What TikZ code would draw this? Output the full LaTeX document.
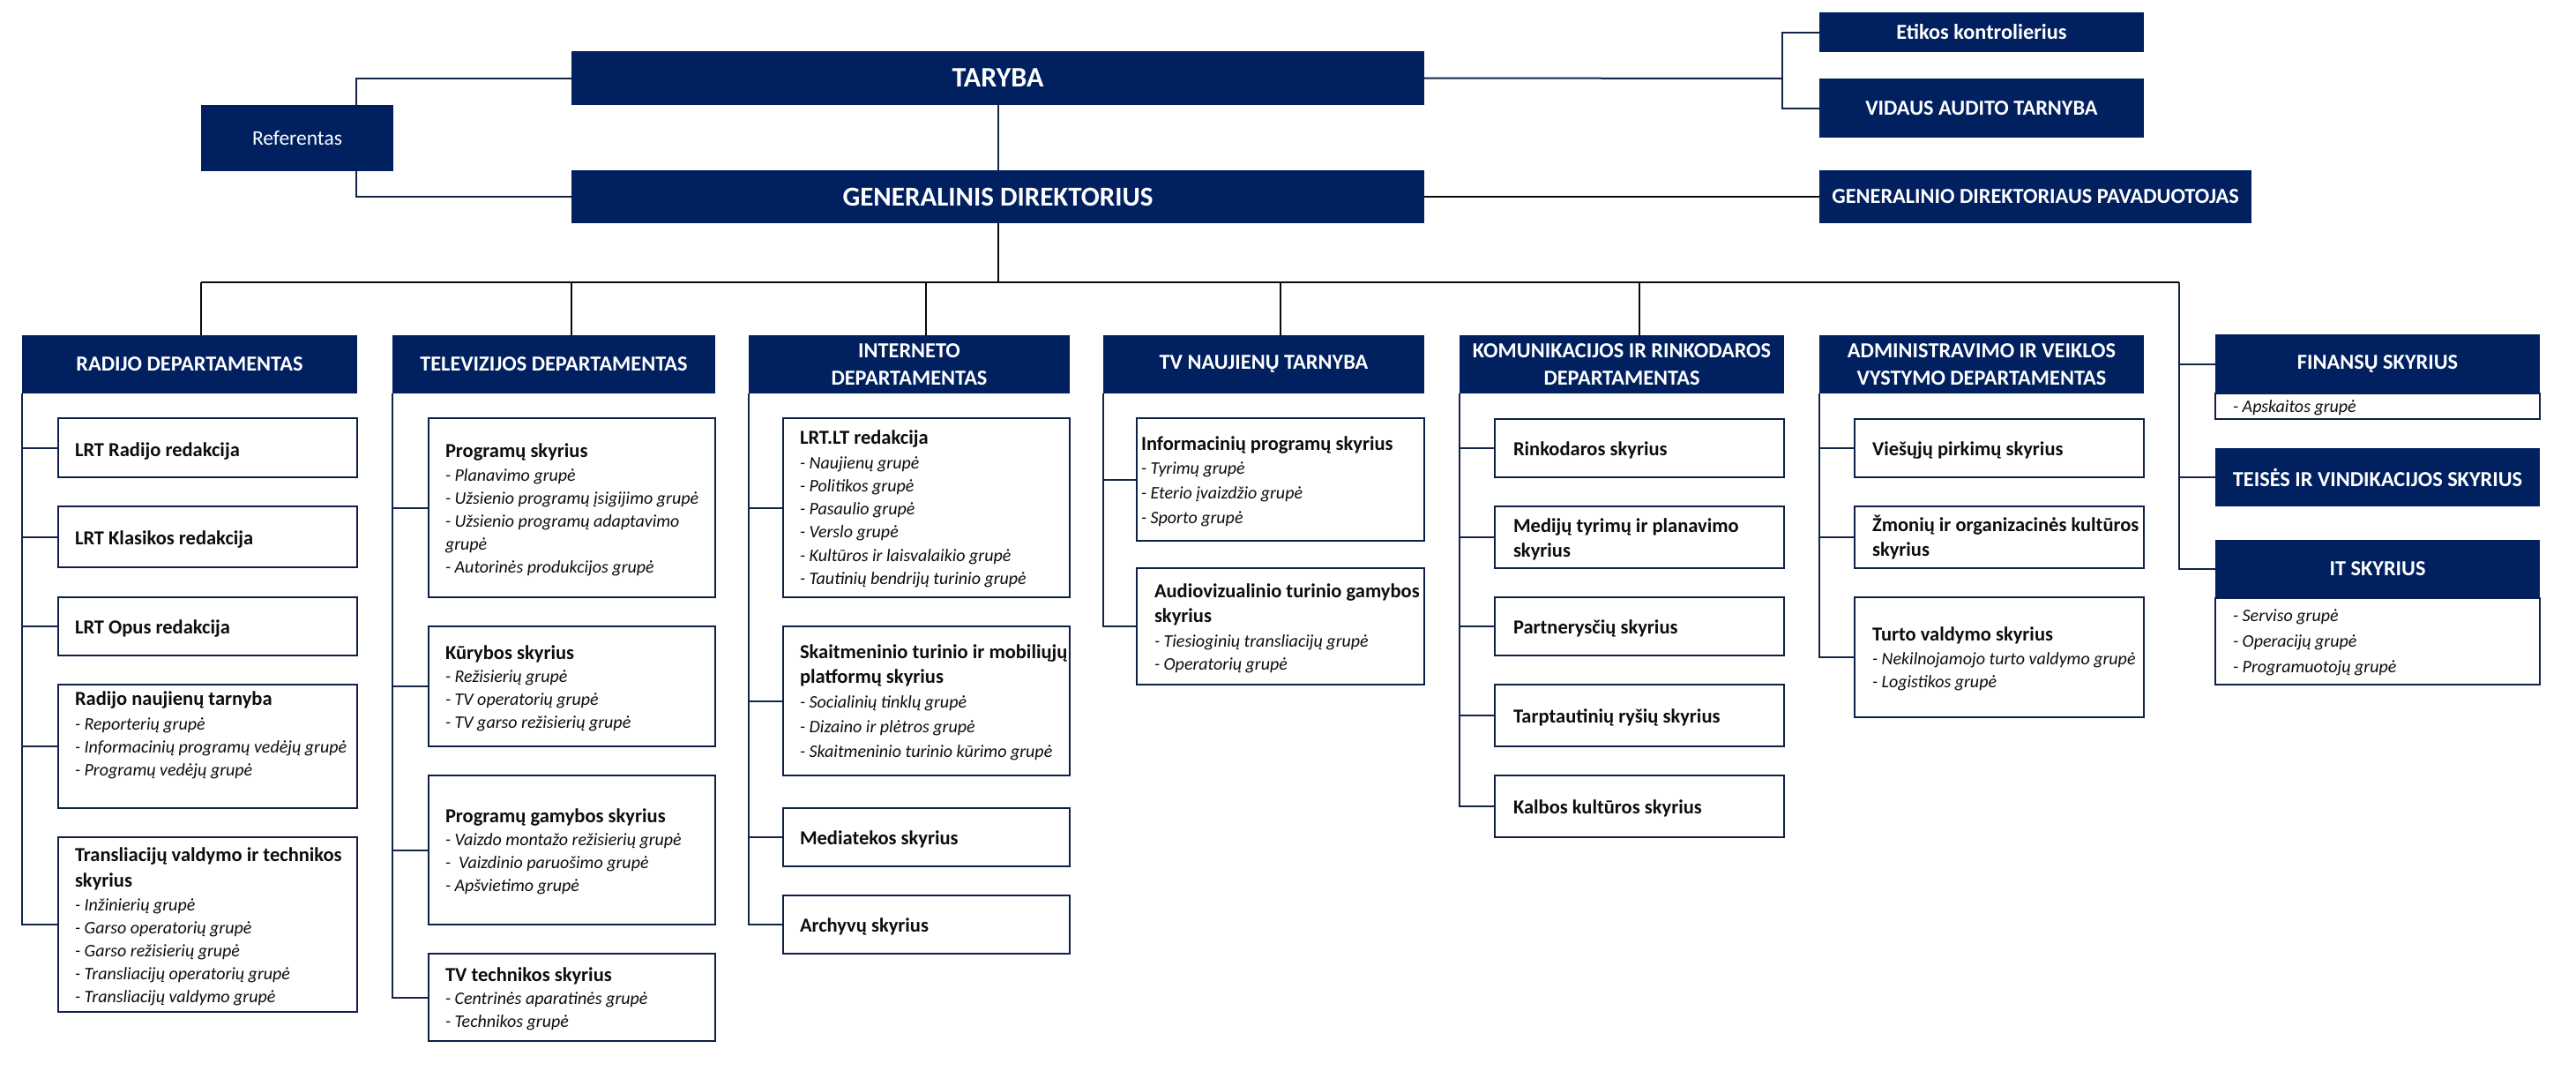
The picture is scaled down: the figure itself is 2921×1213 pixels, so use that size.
\documentclass[tikz,border=0pt]{standalone}
\usepackage{fontspec}
\setmainfont{Carlito}
\usetikzlibrary{backgrounds}
\definecolor{navy}{HTML}{002060}
\definecolor{edgec}{HTML}{0F1F47}
\definecolor{wirec}{HTML}{14234A}
\definecolor{busc}{HTML}{0A0A0A}
\definecolor{textc}{HTML}{0D0D0D}
\newcommand\hd[1]{{\fontsize{22.5}{26}\selectfont\upshape\bfseries #1}}
\newcommand\rows[1]{\begin{tabular}[t]{@{}l@{}}#1\end{tabular}}
\newcommand\rbox[7]{\node[#1, minimum width={#5-#3}, minimum height={#6-#4}] (#2) at ({(#3+#5)/2},{(#4+#6)/2}) {#7};}
\begin{document}
\begin{tikzpicture}[x=1pt,y=-1pt,
  hdr/.style={fill=navy, draw=none, text=white, font=\fontsize{24.3}{31}\selectfont\bfseries, align=center, inner sep=0pt, outer sep=0pt},
  sbox/.style={draw=edgec, line width=2pt, fill=white, inner sep=0pt, outer sep=0pt},
  wire/.style={draw=wirec, line width=2pt},
  busline/.style={draw=busc, line width=2pt},
  body/.style={anchor=base west, inner sep=0pt, outer sep=0pt, text=textc, font=\fontsize{20}{26}\selectfont\itshape}]
\useasboundingbox (0,0) rectangle (2921,1213);
% ---------- top level
\rbox{hdr,font=\fontsize{32}{36}\selectfont\bfseries}{tar}{648}{58}{1615}{119}{TARYBA}
\rbox{hdr,font=\fontsize{31}{36}\selectfont\bfseries}{gd}{648}{193}{1615}{253}{GENERALINIS DIREKTORIUS}
\rbox{hdr,font=\fontsize{23.5}{28}\selectfont}{ref}{228}{119}{446}{194}{Referentas}
\rbox{hdr,font=\fontsize{24.3}{28}\selectfont\bfseries}{etk}{2063}{14}{2431}{59}{Etikos kontrolierius}
\rbox{hdr}{vid}{2063}{89}{2431}{156}{VIDAUS AUDITO TARNYBA}
\rbox{hdr}{gdp}{2063}{193}{2553}{253}{GENERALINIO DIREKTORIAUS PAVADUOTOJAS}
% ---------- department headers
\rbox{hdr}{radh}{25}{380}{405}{446}{RADIJO DEPARTAMENTAS}
\rbox{hdr}{tvh}{445}{380}{811}{446}{TELEVIZIJOS DEPARTAMENTAS}
\rbox{hdr}{inh}{849}{380}{1213}{446}{INTERNETO\\DEPARTAMENTAS}
\rbox{hdr}{tnh}{1251}{380}{1615}{446}{TV NAUJIENŲ TARNYBA}
\rbox{hdr}{koh}{1655}{380}{2023}{446}{KOMUNIKACIJOS IR RINKODAROS\\DEPARTAMENTAS}
\rbox{hdr}{adh}{2063}{380}{2431}{446}{ADMINISTRAVIMO IR VEIKLOS\\VYSTYMO DEPARTAMENTAS}
\rbox{sbox}{fins}{2512}{446}{2880}{475}{}
\rbox{hdr}{finh}{2512}{379}{2880}{446}{FINANSŲ SKYRIUS}
\rbox{hdr}{teis}{2512}{508}{2880}{574}{TEISĖS IR VINDIKACIJOS SKYRIUS}
\rbox{sbox}{its}{2512}{678}{2880}{776}{}
\rbox{hdr}{ith}{2512}{612}{2880}{678}{IT SKYRIUS}
% ---------- column 1
\rbox{sbox}{c11}{66}{474}{405}{541}{}
\rbox{sbox}{c12}{66}{574}{405}{643}{}
\rbox{sbox}{c13}{66}{677}{405}{743}{}
\rbox{sbox}{c14}{66}{776}{405}{916}{}
\rbox{sbox}{c15}{66}{949}{405}{1147}{}
\node[body] (t11) at (85,517) {\hd{LRT Radijo redakcija}};
\node[body] (t12) at (85,617) {\hd{LRT Klasikos redakcija}};
\node[body] (t13) at (85,718) {\hd{LRT Opus redakcija}};
\node[body] (t14) at (85,799) {\rows{\hd{Radijo naujienų tarnyba}\\[2pt] - Reporterių grupė\\ - Informacinių programų vedėjų grupė\\ - Programų vedėjų grupė}};
\node[body] (t15) at (85,976) {\rows{\hd{Transliacijų valdymo ir technikos}\\[3pt] \hd{skyrius}\\[1pt] - Inžinierių grupė\\ - Garso operatorių grupė\\ - Garso režisierių grupė\\ - Transliacijų operatorių grupė\\ - Transliacijų valdymo grupė}};
% ---------- column 2
\rbox{sbox}{c21}{486}{474}{811}{677}{}
\rbox{sbox}{c22}{486}{710}{811}{846}{}
\rbox{sbox}{c23}{486}{879}{811}{1048}{}
\rbox{sbox}{c24}{486}{1081}{811}{1180}{}
\node[body] (t21) at (505,518) {\rows{\hd{Programų skyrius}\\[1pt] - Planavimo grupė\\ - Užsienio programų įsigijimo grupė\\ - Užsienio programų adaptavimo\\ grupė\\ - Autorinės produkcijos grupė}};
\node[body] (t22) at (505,747) {\rows{\hd{Kūrybos skyrius}\\ - Režisierių grupė\\ - TV operatorių grupė\\ - TV garso režisierių grupė}};
\node[body] (t23) at (505,932) {\rows{\hd{Programų gamybos skyrius}\\ - Vaizdo montažo režisierių grupė\\ -\ \ Vaizdinio paruošimo grupė\\ - Apšvietimo grupė}};
\node[body] (t24) at (505,1112) {\rows{\hd{TV technikos skyrius}\\ - Centrinės aparatinės grupė\\ - Technikos grupė}};
% ---------- column 3
\rbox{sbox}{c31}{888}{474}{1213}{677}{}
\rbox{sbox}{c32}{888}{710}{1213}{879}{}
\rbox{sbox}{c33}{888}{916}{1213}{982}{}
\rbox{sbox}{c34}{888}{1015}{1213}{1081}{}
\node[body] (t31) at (907,503) {\rows{\hd{LRT.LT redakcija}\\[2pt] - Naujienų grupė\\ - Politikos grupė\\ - Pasaulio grupė\\ - Verslo grupė\\[1pt] - Kultūros ir laisvalaikio grupė\\ - Tautinių bendrijų turinio grupė}};
\node[body] (t32) at (907,746) {\rows{\hd{Skaitmeninio turinio ir mobiliųjų}\\[2pt] \hd{platformų skyrius}\\[2pt] - Socialinių tinklų grupė\\[2pt] - Dizaino ir plėtros grupė\\[2pt] - Skaitmeninio turinio kūrimo grupė}};
\node[body] (t33) at (907,957) {\hd{Mediatekos skyrius}};
\node[body] (t34) at (907,1056) {\hd{Archyvų skyrius}};
% ---------- column 4
\rbox{sbox}{c41}{1289}{474}{1615}{613}{}
\rbox{sbox}{c42}{1289}{644}{1615}{776}{}
\node[body] (t41) at (1294,510) {\rows{\hd{Informacinių programų skyrius}\\[1pt] - Tyrimų grupė\\[2pt] - Eterio įvaizdžio grupė\\[2pt] - Sporto grupė}};
\node[body] (t42) at (1309,677) {\rows{\hd{Audiovizualinio turinio gamybos}\\[2pt] \hd{skyrius}\\[2pt] - Tiesioginių transliacijų grupė\\ - Operatorių grupė}};
% ---------- column 5
\rbox{sbox}{c51}{1695}{475}{2023}{541}{}
\rbox{sbox}{c52}{1695}{574}{2023}{644}{}
\rbox{sbox}{c53}{1695}{677}{2023}{743}{}
\rbox{sbox}{c54}{1695}{776}{2023}{846}{}
\rbox{sbox}{c55}{1695}{879}{2023}{949}{}
\node[body] (t51) at (1716,516) {\hd{Rinkodaros skyrius}};
\node[body] (t52) at (1716,603) {\rows{\hd{Medijų tyrimų ir planavimo}\\[2pt] \hd{skyrius}}};
\node[body] (t53) at (1716,718) {\hd{Partnerysčių skyrius}};
\node[body] (t54) at (1716,819) {\hd{Tarptautinių ryšių skyrius}};
\node[body] (t55) at (1716,922) {\hd{Kalbos kultūros skyrius}};
% ---------- column 6
\rbox{sbox}{c61}{2103}{475}{2431}{541}{}
\rbox{sbox}{c62}{2103}{574}{2431}{644}{}
\rbox{sbox}{c63}{2103}{677}{2431}{813}{}
\node[body] (t61) at (2123,516) {\hd{Viešųjų pirkimų skyrius}};
\node[body] (t62) at (2123,602) {\rows{\hd{Žmonių ir organizacinės kultūros}\\[2pt] \hd{skyrius}}};
\node[body] (t63) at (2123,726) {\rows{\hd{Turto valdymo skyrius}\\[1pt] - Nekilnojamojo turto valdymo grupė\\ - Logistikos grupė}};
% ---------- column 7 texts
\node[body] (t71) at (2532,467) {- Apskaitos grupė};
\node[body] (t72) at (2532,704) {\rows{- Serviso grupė\\[3pt] - Operacijų grupė\\[3pt] - Programuotojų grupė}};
% ---------- junction coordinates
\coordinate (rj) at (404,150);
\coordinate (tj) at (2021,89);
\coordinate (d1) at (228,320);
\coordinate (d2) at (648,320);
\coordinate (d3) at (1050,320);
\coordinate (d4) at (1452,320);
\coordinate (d5) at (1859,320);
\coordinate (dR) at (2471,320);
% ---------- connectors (behind boxes)
\begin{pgfonlayer}{background}
\fill[white] (0,0) rectangle (2921,1213);
\draw[wire] (tar.south) -- (gd.north);
\draw[wire] (tar.west) -| (rj) |- (gd.west);
\draw[wire] (tar.east) -- (tj);
\draw[wire] (etk.west) -| (tj) |- (vid.west);
\draw[busline, line width=2.6pt] (gd.east) -- (gdp.west);
\draw[busline] (gd.south) -- (gd.south |- d1);
\draw[busline] (d1) -- (dR);
\draw[busline] (d1) -- (d1 |- radh.north);
\draw[busline] (d2) -- (d2 |- tvh.north);
\draw[busline] (d3) -- (d3 |- inh.north);
\draw[busline] (d4) -- (d4 |- tnh.north);
\draw[busline] (d5) -- (d5 |- koh.north);
\draw[wire] (dR) |- (ith.west);
\draw[wire] (dR |- finh.west) -- (finh.west);
\draw[wire] (dR |- teis.west) -- (teis.west);
% column verticals
\draw[wire] (radh.south west) |- (c15.west);
\foreach \c in {c11,c12,c13,c14} \draw[wire] (radh.south west |- \c.west) -- (\c.west);
\draw[wire] (tvh.south west) |- (c24.west);
\foreach \c in {c21,c22,c23} \draw[wire] (tvh.south west |- \c.west) -- (\c.west);
\draw[wire] (inh.south west) |- (c34.west);
\foreach \c in {c31,c32,c33} \draw[wire] (inh.south west |- \c.west) -- (\c.west);
\draw[wire] (tnh.south west) |- (c42.west);
\draw[wire] (tnh.south west |- c41.west) -- (c41.west);
\draw[wire] (koh.south west) |- (c55.west);
\foreach \c in {c51,c52,c53,c54} \draw[wire] (koh.south west |- \c.west) -- (\c.west);
\draw[wire] (adh.south west) |- (c63.west);
\foreach \c in {c61,c62} \draw[wire] (adh.south west |- \c.west) -- (\c.west);
\end{pgfonlayer}
\end{tikzpicture}
\end{document}
